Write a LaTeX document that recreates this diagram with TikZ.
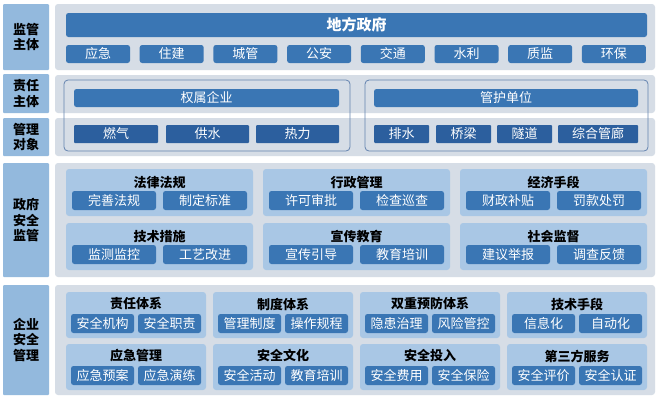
\documentclass[tikz,border=0pt]{standalone}
\usepackage{fontspec}
\usetikzlibrary{calc}
\newfontfamily\cjk{Noto Sans CJK SC}
\definecolor{panelgray}{HTML}{D6DDE6}
\definecolor{lblblue}{HTML}{93B9DD}
\definecolor{barblue}{HTML}{3A76B4}
\definecolor{darkblue}{HTML}{2C5F9E}
\definecolor{subblue}{HTML}{A9C7E5}
\definecolor{outlinecol}{HTML}{6483AF}
\begin{document}
\begin{tikzpicture}[x=1pt,y=-1pt,
  every node/.style={inner sep=0pt, outer sep=0pt, anchor=north west},
  lbl/.style={fill=lblblue, text=black, align=center, rounded corners=1pt,
    font=\cjk\bfseries\fontsize{13}{15.5}\selectfont},
  panel/.style={fill=panelgray, rounded corners=3pt},
  bar/.style={fill=barblue, text=white, rounded corners=2.5pt,
    font=\cjk\fontsize{13}{15}\selectfont},
  dbox/.style={fill=darkblue, text=white, rounded corners=1pt,
    font=\cjk\fontsize{13}{15}\selectfont},
  subp/.style={fill=subblue, rounded corners=3pt},
  ttl/.style={anchor=center, text=black, font=\cjk\bfseries\fontsize{13}{15}\selectfont},
  frame/.style={draw=outlinecol, line width=0.8pt, rounded corners=4pt}
]
\useasboundingbox (0,0) rectangle (660,400);
\fill[white] (0,0) rectangle (660,400);

% ---------- row 1
\node[lbl, minimum width=46pt, minimum height=66pt] (l1) at (3,4) {监管\\主体};
\node[panel, minimum width=600pt, minimum height=66pt] (p1) at (55,4) {};
\node[bar, minimum width=581pt, minimum height=24pt,
  font=\cjk\bfseries\fontsize{15}{17}\selectfont] (gov) at (66,13) {地方政府};
\foreach \t [count=\i from 0] in {应急,住建,城管,公安,交通,水利,质监,环保}
  \node[bar, minimum width=64pt, minimum height=18pt] (d\i) at ({66+\i*73.7},45) {\t};

% ---------- rows 2, 3
\node[lbl, minimum width=46pt, minimum height=39pt] (l2) at (3,74) {责任\\主体};
\node[panel, minimum width=600pt, minimum height=38pt] (p2) at (55,75) {};
\node[lbl, minimum width=46pt, minimum height=38pt] (l3) at (3,118) {管理\\对象};
\node[panel, minimum width=600pt, minimum height=38pt] (p3) at (55,118) {};
\node[frame, minimum width=286pt, minimum height=71pt] (fl) at (64,80) {};
\node[frame, minimum width=283pt, minimum height=71pt] (fr) at (365,80) {};
\node[bar, minimum width=265pt, minimum height=18pt] (qs) at (74,89) {权属企业};
\node[bar, minimum width=264pt, minimum height=18pt] (gh) at (374,89) {管护单位};
\node[dbox, minimum width=84pt, minimum height=18pt] (o1) at (74,125) {燃气};
\node[dbox, minimum width=83pt, minimum height=18pt] (o2) at (166,125) {供水};
\node[dbox, minimum width=83pt, minimum height=18pt] (o3) at (256,125) {热力};
\node[dbox, minimum width=55pt, minimum height=18pt] (o4) at (374,125) {排水};
\node[dbox, minimum width=55pt, minimum height=18pt] (o5) at (436,125) {桥梁};
\node[dbox, minimum width=55pt, minimum height=18pt] (o6) at (497,125) {隧道};
\node[dbox, minimum width=80pt, minimum height=18pt] (o7) at (558,125) {综合管廊};

% ---------- row 4
\node[lbl, minimum width=46pt, minimum height=114pt] (l4) at (3,163) {政府\\安全\\监管};
\node[panel, minimum width=600pt, minimum height=114pt] (p4) at (55,163) {};
\foreach \ti/\a/\b [count=\i from 0] in {法律法规/完善法规/制定标准,行政管理/许可审批/检查巡查,经济手段/财政补贴/罚款处罚,技术措施/监测监控/工艺改进,宣传教育/宣传引导/教育培训,社会监督/建议举报/调查反馈}{
  \pgfmathsetmacro\cx{66+mod(\i,3)*197}
  \pgfmathsetmacro\cy{169+int(\i/3)*54}
  \node[subp, minimum width=187pt, minimum height=47pt] (g\i) at (\cx,\cy) {};
  \node[ttl] (gt\i) at ($(g\i.north)+(0,13.5)$) {\ti};
  \node[bar, minimum width=84pt, minimum height=19pt] (ga\i) at ($(g\i.north west)+(6,22)$) {\a};
  \node[bar, minimum width=84pt, minimum height=19pt] (gb\i) at ($(g\i.north west)+(97,22)$) {\b};
}

% ---------- row 5
\node[lbl, minimum width=46pt, minimum height=110pt] (l5) at (3,285) {企业\\安全\\管理};
\node[panel, minimum width=600pt, minimum height=110pt] (p5) at (55,285) {};
\foreach \ti/\a/\b [count=\i from 0] in {责任体系/安全机构/安全职责,制度体系/管理制度/操作规程,双重预防体系/隐患治理/风险管控,技术手段/信息化/自动化,应急管理/应急预案/应急演练,安全文化/安全活动/教育培训,安全投入/安全费用/安全保险,第三方服务/安全评价/安全认证}{
  \pgfmathsetmacro\cx{66+mod(\i,4)*147}
  \pgfmathsetmacro\cy{292+int(\i/4)*52}
  \node[subp, minimum width=140pt, minimum height=46pt] (e\i) at (\cx,\cy) {};
  \node[ttl] (et\i) at ($(e\i.north)+(0,12)$) {\ti};
  \node[bar, minimum width=63pt, minimum height=19pt] (ea\i) at ($(e\i.north west)+(5,22)$) {\a};
  \node[bar, minimum width=63pt, minimum height=19pt] (eb\i) at ($(e\i.north west)+(72,22)$) {\b};
}
\end{tikzpicture}
\end{document}
